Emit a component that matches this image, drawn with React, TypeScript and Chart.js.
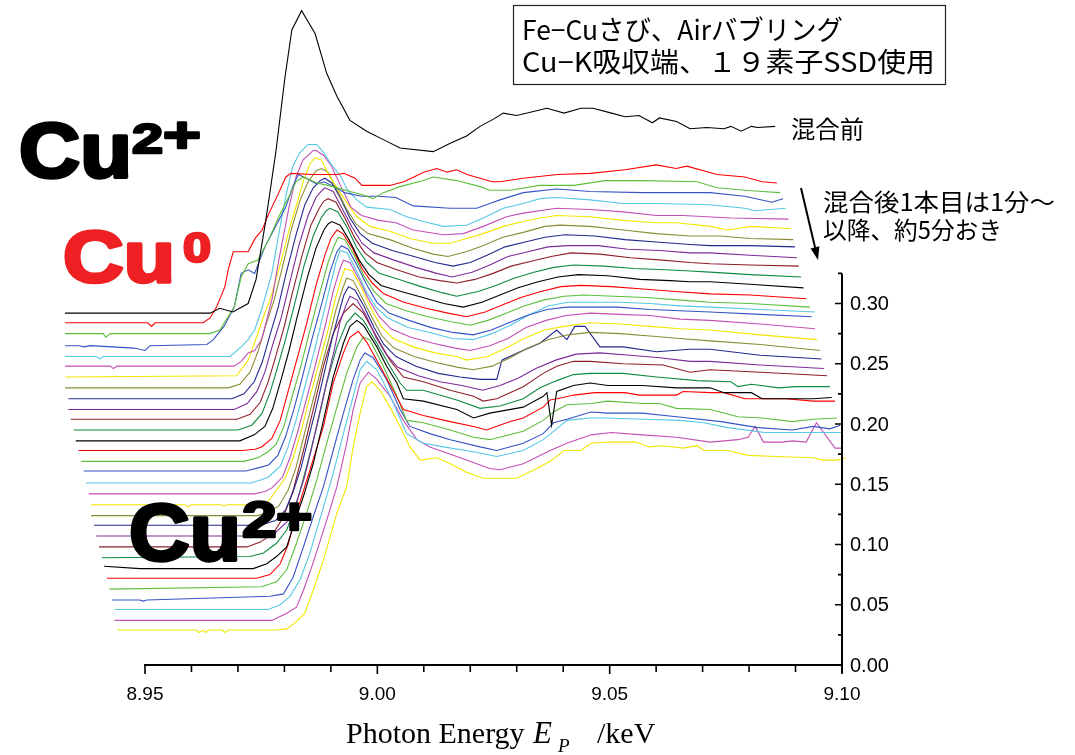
import React, { useEffect, useRef } from 'react';
import { Chart, registerables } from 'chart.js';

Chart.register(...registerables);

// ---- axis ticks ----
const X_MAJOR_TICKS = [8.95, 9.0, 9.05, 9.1];
const X_TICK_LABELS = ['8.95', '9.00', '9.05', '9.10'];
const X_MINOR_STEP = 0.01;
const Y_MAJOR_TICKS = [0, 0.05, 0.1, 0.15, 0.2, 0.25, 0.3];
const Y_TICK_LABELS = ['0.00', '0.05', '0.10', '0.15', '0.20', '0.25', '0.30'];
const Y_MINOR_STEP = 0.025;
const Y_AXIS_TOP = 0.325;

// Origin-like colour cycle
const COLORS = ['#000000', '#ff0000', '#5cbf3c', '#3553c4', '#55c8e6', '#c34fb5', '#f2e600', '#8c8c37', '#23288c', '#7d2b9b', '#8f1f2b', '#0f8a43'];

// ---- spectra: [photon energy / eV, plotted value] (waterfall, as displayed) ----
const S00 = [[8932.8,.292],[8964.0,.292],[8966.1,.296],[8968.9,.293],[8972.2,.300],[8973.9,.320],[8976.0,.369],[8978.2,.427],[8980.1,.487],[8981.6,.527],[8983.7,.543],[8986.6,.524],[8989.1,.491],[8991.3,.472],[8994.1,.452],[8997.7,.443],[9001.3,.436],[9004.9,.429],[9012.0,.426],[9015.7,.433],[9019.2,.439],[9022.1,.447],[9025.0,.453],[9027.1,.458],[9030.0,.456],[9036.5,.462],[9040.2,.458],[9043.8,.462],[9046.4,.462],[9050.4,.458],[9053.3,.455],[9056.3,.456],[9059.2,.450],[9060.7,.454],[9064.4,.451],[9067.3,.445],[9070.9,.446],[9074.6,.445],[9076.1,.447],[9078.3,.443],[9080.5,.447],[9081.9,.446],[9085.6,.447]];
const S01 = [[8932.8,.284],[8950.6,.284],[8951.4,.281],[8952.2,.284],[8962.5,.284],[8964.0,.288],[8965.4,.297],[8967.2,.314],[8967.9,.328],[8969.0,.343],[8972.2,.343],[8973.7,.354],[8975.2,.361],[8976.7,.375],[8978.8,.392],[8980.3,.405],[8981.4,.408],[8985.9,.407],[8991.3,.407],[8992.8,.408],[8995.2,.404],[8996.7,.398],[9002.7,.398],[9005.7,.401],[9010.0,.409],[9012.8,.412],[9015.0,.409],[9017.1,.411],[9019.3,.407],[9024.7,.401],[9026.4,.401],[9031.4,.404],[9038.7,.407],[9045.8,.408],[9053.3,.411],[9060.0,.415],[9064.3,.412],[9066.6,.414],[9073.1,.407],[9079.1,.405],[9082.8,.401],[9086.0,.400]];
const S02 = [[8932.8,.275],[8941.0,.275],[8941.6,.272],[8942.5,.275],[8964.0,.275],[8966.1,.278],[8969.2,.297],[8970.7,.322],[8972.2,.333],[8974.3,.336],[8976.6,.353],[8978.8,.372],[8981.0,.389],[8982.5,.401],[8984.0,.405],[8987.0,.400],[8990.5,.397],[8994.1,.393],[8997.0,.390],[8999.1,.387],[9001.3,.392],[9004.9,.397],[9009.9,.402],[9012.0,.405],[9017.1,.402],[9022.1,.397],[9024.2,.394],[9028.6,.394],[9035.0,.398],[9042.3,.398],[9049.0,.402],[9057.0,.402],[9068.8,.401],[9073.1,.396],[9079.1,.394],[9082.8,.393],[9086.7,.392]];
const S03 = [[8932.8,.265],[8935.8,.265],[8936.9,.264],[8938.2,.265],[8947.6,.263],[8950.0,.261],[8951.1,.265],[8963.3,.266],[8964.7,.270],[8967.0,.281],[8969.2,.297],[8970.7,.325],[8972.2,.328],[8973.6,.325],[8975.8,.347],[8978.1,.364],[8980.3,.380],[8981.8,.397],[8983.0,.407],[8984.7,.404],[8987.0,.399],[8988.5,.401],[8990.7,.397],[8992.9,.392],[8996.6,.389],[9000.3,.389],[9004.0,.388],[9007.7,.381],[9015.7,.379],[9021.4,.379],[9024.2,.383],[9026.4,.386],[9031.4,.392],[9038.6,.395],[9045.8,.393],[9057.0,.392],[9071.6,.392],[9079.1,.389],[9084.9,.384],[9087.3,.387]];
const S04 = [[8932.8,.256],[8939.5,.256],[8940.3,.254],[8941.0,.256],[8968.3,.256],[8970.7,.264],[8972.2,.270],[8973.6,.278],[8975.1,.295],[8977.3,.325],[8978.8,.358],[8980.3,.389],[8981.8,.414],[8983.3,.425],[8985.1,.432],[8985.9,.432],[8987.0,.432],[8988.5,.425],[8990.0,.416],[8992.2,.405],[8993.6,.394],[8995.6,.386],[8997.7,.380],[9002.7,.378],[9006.3,.372],[9009.9,.368],[9014.2,.364],[9019.2,.365],[9022.8,.371],[9027.1,.379],[9031.4,.383],[9035.0,.387],[9038.6,.388],[9045.8,.386],[9052.9,.383],[9060.1,.383],[9071.6,.382],[9079.1,.379],[9081.3,.377],[9087.9,.379]];
const S05 = [[8932.8,.248],[8942.5,.248],[8943.2,.246],[8944.0,.248],[8969.2,.248],[8970.7,.252],[8972.2,.259],[8973.6,.261],[8975.1,.270],[8977.3,.303],[8978.8,.336],[8981.0,.380],[8982.5,.405],[8984.0,.419],[8986.2,.427],[8986.8,.427],[8988.4,.423],[8990.0,.415],[8992.2,.397],[8994.3,.380],[8996.6,.373],[9000.3,.369],[9004.0,.367],[9007.7,.361],[9014.2,.357],[9018.5,.358],[9022.8,.364],[9027.8,.372],[9031.4,.375],[9038.6,.379],[9045.8,.378],[9052.9,.376],[9060.1,.373],[9065.8,.373],[9076.1,.371],[9088.5,.370]];
const S06 = [[8932.8,.239],[8969.7,.240],[8972.2,.253],[8974.0,.272],[8975.5,.289],[8976.9,.303],[8979.1,.332],[8981.2,.364],[8982.7,.383],[8984.1,.402],[8985.5,.416],[8986.6,.421],[8988.0,.419],[8989.8,.405],[8992.0,.392],[8994.1,.380],[8995.6,.372],[8998.4,.364],[9002.7,.360],[9007.0,.354],[9012.0,.350],[9015.7,.350],[9019.2,.354],[9022.8,.358],[9027.1,.364],[9031.4,.368],[9035.0,.371],[9038.6,.373],[9045.8,.372],[9052.9,.369],[9060.1,.367],[9064.4,.367],[9071.7,.364],[9075.4,.361],[9080.5,.364],[9089.0,.362]];
const S07 = [[8932.8,.230],[8967.9,.230],[8970.4,.233],[8972.6,.243],[8974.3,.260],[8976.0,.282],[8977.8,.303],[8979.5,.329],[8981.6,.363],[8983.4,.386],[8985.1,.401],[8986.8,.410],[8988.0,.412],[8989.4,.409],[8991.1,.396],[8993.3,.379],[8995.4,.366],[8998.0,.358],[9002.7,.353],[9007.5,.346],[9012.0,.341],[9015.2,.339],[9019.1,.343],[9022.7,.348],[9027.0,.355],[9031.4,.359],[9036.1,.364],[9039.3,.365],[9045.8,.364],[9052.9,.361],[9060.0,.358],[9067.3,.356],[9073.7,.356],[9080.2,.354],[9089.5,.353]];
const S08 = [[8933.5,.221],[8968.7,.221],[8971.3,.225],[8973.5,.235],[8975.2,.251],[8976.9,.274],[8978.6,.296],[8980.3,.324],[8982.5,.357],[8984.4,.382],[8986.2,.396],[8987.7,.402],[8988.7,.404],[8990.2,.400],[8992.0,.388],[8994.1,.371],[8996.3,.358],[8998.9,.350],[9003.2,.344],[9007.9,.339],[9012.4,.334],[9016.3,.331],[9020.0,.334],[9023.6,.340],[9027.5,.347],[9031.8,.351],[9036.1,.355],[9040.4,.357],[9046.8,.356],[9053.3,.353],[9060.0,.351],[9067.3,.349],[9071.6,.348],[9080.2,.348],[9089.9,.347]];
const S09 = [[8933.5,.212],[8969.2,.212],[8972.0,.217],[8974.1,.227],[8975.8,.243],[8977.5,.266],[8979.3,.288],[8981.0,.315],[8983.1,.348],[8985.1,.373],[8986.8,.388],[8987.9,.393],[8988.7,.396],[8990.5,.393],[8992.4,.379],[8994.6,.363],[8996.7,.350],[8999.3,.342],[9003.6,.336],[9008.3,.330],[9012.8,.325],[9016.1,.322],[9020.4,.326],[9024.2,.332],[9028.1,.339],[9032.4,.343],[9036.7,.347],[9041.0,.348],[9047.5,.348],[9053.9,.345],[9060.8,.344],[9067.3,.342],[9071.6,.342],[9080.2,.340],[9090.3,.338]];
const S10 = [[8934.0,.204],[8969.8,.204],[8972.6,.208],[8974.8,.218],[8976.5,.235],[8978.2,.257],[8979.9,.280],[8981.6,.307],[8983.8,.340],[8985.7,.365],[8987.5,.379],[8988.5,.385],[8989.4,.387],[8991.1,.384],[8993.0,.371],[8995.2,.354],[8997.3,.342],[8999.9,.334],[9004.2,.328],[9009.0,.322],[9013.5,.319],[9017.1,.317],[9021.0,.320],[9024.9,.325],[9028.8,.331],[9033.1,.335],[9037.4,.339],[9041.7,.342],[9047.9,.341],[9054.4,.338],[9061.3,.336],[9067.3,.334],[9071.6,.333],[9080.2,.332],[9090.7,.331]];
const S11 = [[8934.6,.195],[8970.0,.195],[8973.0,.199],[8975.2,.209],[8976.9,.226],[8978.6,.248],[8980.3,.271],[8982.1,.298],[8984.2,.331],[8986.2,.356],[8987.9,.371],[8989.0,.377],[8989.8,.379],[8991.5,.376],[8993.5,.363],[8995.6,.346],[8997.8,.334],[9000.4,.325],[9004.7,.320],[9009.4,.314],[9013.9,.309],[9017.1,.306],[9021.7,.310],[9025.5,.315],[9029.4,.321],[9033.7,.326],[9038.0,.330],[9042.3,.332],[9048.8,.331],[9055.2,.329],[9061.9,.328],[9067.3,.327],[9071.6,.326],[9080.2,.324],[9091.2,.322]];
const S12 = [[8935.1,.186],[8970.4,.186],[8973.5,.191],[8975.8,.198],[8977.5,.213],[8979.3,.237],[8981.0,.261],[8982.7,.288],[8984.9,.321],[8986.8,.346],[8988.5,.361],[8989.4,.366],[8990.2,.368],[8992.0,.365],[8993.9,.353],[8996.1,.336],[8998.2,.324],[9000.8,.315],[9005.1,.310],[9009.8,.305],[9014.3,.300],[9018.5,.297],[9022.5,.301],[9026.4,.307],[9030.3,.313],[9034.6,.318],[9038.9,.322],[9043.2,.324],[9049.6,.323],[9056.5,.320],[9063.0,.319],[9067.3,.318],[9071.6,.318],[9080.2,.316],[9091.7,.313]];
const S13 = [[8935.7,.178],[8970.9,.178],[8973.7,.179],[8975.1,.181],[8977.3,.188],[8979.1,.203],[8980.8,.227],[8982.5,.251],[8984.7,.282],[8986.8,.315],[8988.7,.340],[8990.0,.354],[8991.3,.361],[8992.6,.358],[8994.6,.346],[8996.7,.329],[8998.9,.317],[9001.4,.308],[9005.7,.301],[9010.5,.296],[9015.2,.292],[9019.2,.289],[9023.2,.293],[9027.0,.299],[9030.9,.305],[9035.2,.310],[9039.5,.314],[9043.8,.315],[9050.3,.314],[9057.2,.312],[9064.1,.310],[9071.6,.308],[9080.2,.307],[9092.3,.304]];
const S14 = [[8936.3,.169],[8971.3,.169],[8974.3,.172],[8976.5,.177],[8978.2,.183],[8979.9,.198],[8981.6,.222],[8983.4,.246],[8985.5,.278],[8987.7,.310],[8989.4,.334],[8990.7,.348],[8991.6,.355],[8993.0,.353],[8995.0,.340],[8997.1,.323],[8999.3,.310],[9001.9,.300],[9006.2,.294],[9010.9,.289],[9015.7,.285],[9020.0,.282],[9023.8,.286],[9027.7,.292],[9031.6,.298],[9035.9,.303],[9040.2,.306],[9044.5,.307],[9050.9,.306],[9057.8,.305],[9064.7,.303],[9071.6,.301],[9080.2,.300],[9093.1,.297]];
const S15 = [[8936.8,.161],[8971.7,.161],[8974.8,.164],[8976.6,.166],[8978.6,.174],[8980.3,.190],[8982.1,.213],[8983.8,.238],[8985.9,.270],[8988.1,.301],[8989.8,.326],[8991.3,.343],[8992.3,.348],[8993.7,.345],[8995.6,.332],[8997.8,.315],[8999.9,.301],[9002.5,.292],[9006.8,.286],[9011.6,.280],[9016.3,.276],[9020.6,.274],[9024.5,.278],[9028.3,.284],[9032.2,.290],[9036.5,.295],[9040.8,.297],[9045.1,.297],[9051.6,.297],[9058.7,.295],[9065.1,.294],[9071.6,.293],[9082.4,.291],[9093.5,.289]];
const S16 = [[8937.3,.151],[8972.8,.151],[8975.2,.154],[8976.6,.156],[8979.1,.165],[8980.8,.181],[8982.5,.203],[8984.2,.228],[8986.4,.260],[8988.5,.293],[8990.0,.317],[8991.1,.334],[8992.0,.344],[8993.5,.342],[8995.4,.328],[8997.6,.310],[8999.7,.297],[9002.3,.288],[9006.6,.280],[9011.3,.276],[9016.1,.271],[9020.6,.270],[9024.7,.275],[9028.6,.282],[9032.4,.290],[9036.7,.298],[9041.0,.301],[9045.8,.301],[9052.2,.301],[9058.7,.300],[9065.1,.298],[9071.6,.297],[9082.4,.295],[9094.2,.293]];
const S17 = [[8937.9,.142],[8973.5,.142],[8975.8,.144],[8977.3,.147],[8979.6,.156],[8981.2,.172],[8982.9,.194],[8984.7,.220],[8986.8,.251],[8989.0,.285],[8990.5,.310],[8991.8,.327],[8992.7,.336],[8994.1,.334],[8996.1,.320],[8998.2,.303],[9000.4,.289],[9002.9,.279],[9007.2,.272],[9012.0,.267],[9016.7,.263],[9020.0,.261],[9024.2,.265],[9028.1,.271],[9032.0,.280],[9036.3,.286],[9040.6,.290],[9045.8,.292],[9052.2,.291],[9058.7,.290],[9065.1,.287],[9071.6,.286],[9082.4,.283],[9094.2,.279]];
const S18 = [[8938.4,.133],[8958.6,.133],[8959.3,.131],[8959.9,.133],[8966.4,.133],[8967.0,.132],[8967.6,.133],[8973.9,.133],[8976.6,.136],[8978.1,.144],[8980.3,.156],[8981.9,.172],[8983.6,.194],[8985.3,.220],[8987.5,.251],[8989.4,.278],[8990.9,.303],[8992.2,.320],[8993.0,.329],[8994.6,.327],[8996.5,.314],[8998.6,.296],[9000.8,.281],[9003.4,.271],[9007.7,.264],[9012.4,.259],[9017.1,.256],[9019.2,.253],[9023.8,.256],[9027.7,.263],[9031.6,.271],[9035.9,.278],[9040.2,.281],[9045.8,.284],[9052.2,.283],[9058.7,.281],[9065.1,.279],[9071.6,.278],[9082.4,.274],[9094.6,.270]];
const S19 = [[8938.4,.124],[8974.3,.124],[8976.6,.127],[8978.8,.132],[8980.8,.145],[8982.5,.164],[8984.0,.187],[8985.7,.213],[8987.7,.243],[8989.6,.271],[8991.1,.295],[8992.4,.311],[8993.4,.321],[8994.8,.319],[8996.7,.305],[8998.9,.288],[9001.0,.273],[9003.6,.263],[9007.9,.256],[9012.6,.251],[9017.4,.247],[9020.6,.245],[9024.7,.248],[9028.6,.255],[9032.4,.263],[9036.7,.270],[9041.0,.274],[9045.8,.276],[9052.2,.275],[9058.7,.273],[9065.1,.271],[9071.6,.269],[9082.4,.266],[9095.3,.261]];
const S20 = [[8939.0,.116],[8974.8,.116],[8978.1,.120],[8980.3,.129],[8981.9,.144],[8983.6,.164],[8985.1,.187],[8986.8,.213],[8988.5,.241],[8990.2,.270],[8991.8,.293],[8992.8,.307],[8993.8,.314],[8995.2,.311],[8997.1,.298],[8999.3,.280],[9001.4,.266],[9004.0,.256],[9008.3,.248],[9013.1,.242],[9017.8,.239],[9022.1,.237],[9025.7,.237],[9026.8,.253],[9030.7,.260],[9035.0,.267],[9038.6,.278],[9040.8,.270],[9042.5,.281],[9044.7,.281],[9047.9,.264],[9052.9,.264],[9060.1,.260],[9067.3,.262],[9071.6,.262],[9082.4,.257],[9095.6,.254]];
const S21 = [[8939.5,.107],[8974.8,.107],[8978.1,.110],[8980.6,.119],[8982.5,.134],[8984.2,.154],[8985.7,.177],[8987.2,.203],[8989.0,.233],[8990.7,.261],[8992.0,.285],[8993.3,.299],[8994.1,.306],[8995.6,.303],[8997.6,.290],[8999.7,.272],[9001.9,.258],[9004.4,.247],[9008.8,.240],[9013.5,.235],[9018.2,.232],[9022.7,.228],[9026.4,.232],[9030.3,.238],[9034.1,.246],[9038.4,.253],[9042.8,.258],[9047.9,.259],[9054.4,.257],[9060.8,.255],[9067.3,.252],[9071.6,.252],[9082.4,.249],[9096.1,.246]];
const S22 = [[8940.1,.098],[8971.9,.098],[8974.8,.102],[8977.6,.109],[8979.8,.123],[8981.9,.145],[8984.1,.178],[8986.2,.212],[8988.4,.248],[8990.5,.275],[8992.7,.292],[8994.8,.300],[8997.0,.292],[8999.9,.272],[9002.7,.253],[9005.6,.239],[9009.9,.235],[9015.7,.228],[9020.7,.223],[9022.8,.219],[9025.7,.221],[9031.4,.231],[9035.7,.242],[9038.6,.248],[9042.2,.252],[9045.8,.252],[9052.9,.250],[9061.5,.249],[9067.3,.243],[9071.6,.245],[9082.4,.243],[9096.8,.240]];
const S23 = [[8940.7,.089],[8972.6,.090],[8975.5,.093],[8978.3,.101],[8980.5,.112],[8982.6,.134],[8984.8,.165],[8987.0,.198],[8989.1,.234],[8991.3,.264],[8993.4,.284],[8995.2,.292],[8997.0,.286],[8999.9,.267],[9002.7,.248],[9004.9,.234],[9006.3,.228],[9009.9,.228],[9017.1,.220],[9022.1,.213],[9026.4,.215],[9031.4,.221],[9035.0,.230],[9038.6,.236],[9042.2,.241],[9045.8,.242],[9052.9,.242],[9060.1,.239],[9068.8,.236],[9076.1,.235],[9077.6,.231],[9080.5,.233],[9086.4,.230],[9090.1,.231],[9097.4,.231]];
const S24 = [[8941.2,.082],[8948.9,.080],[8973.3,.080],[8976.2,.084],[8978.3,.090],[8980.5,.098],[8981.9,.115],[8984.1,.140],[8986.2,.167],[8988.4,.203],[8990.5,.239],[8992.7,.267],[8994.1,.281],[8995.6,.286],[8997.0,.282],[8999.9,.264],[9002.0,.248],[9004.2,.234],[9005.6,.221],[9009.9,.219],[9017.1,.212],[9020.7,.205],[9024.2,.209],[9031.4,.214],[9035.7,.223],[9036.5,.226],[9037.5,.199],[9038.6,.227],[9042.2,.232],[9045.8,.234],[9049.6,.232],[9057.0,.232],[9064.4,.230],[9071.6,.230],[9074.6,.226],[9080.5,.226],[9082.8,.221],[9090.1,.221],[9093.8,.221],[9097.8,.222]];
const S25 = [[8941.8,.072],[8974.0,.072],[8976.9,.075],[8979.1,.084],[8980.8,.100],[8982.6,.126],[8985.5,.162],[8988.4,.198],[8990.5,.234],[8992.7,.259],[8994.1,.272],[8995.9,.277],[8997.7,.268],[9000.6,.248],[9003.4,.228],[9005.6,.212],[9009.9,.207],[9015.7,.202],[9020.7,.198],[9023.5,.195],[9028.6,.202],[9031.4,.205],[9035.7,.214],[9037.2,.220],[9038.7,.221],[9042.3,.224],[9046.8,.226],[9053.3,.226],[9056.3,.224],[9064.4,.224],[9065.8,.227],[9071.7,.226],[9074.6,.226],[9079.1,.221],[9087.9,.221],[9093.8,.219],[9098.5,.219]];
const S26 = [[8942.4,.063],[8975.1,.065],[8978.3,.069],[8980.5,.079],[8982.6,.101],[8984.8,.126],[8987.0,.154],[8989.1,.184],[8991.3,.214],[8993.4,.242],[8995.6,.264],[8997.0,.272],[8998.4,.270],[9001.3,.248],[9004.2,.223],[9006.3,.203],[9009.9,.201],[9015.7,.195],[9020.7,.189],[9024.2,.187],[9031.4,.194],[9035.7,.203],[9037.9,.210],[9040.8,.216],[9046.0,.217],[9049.6,.219],[9057.0,.217],[9060.7,.217],[9064.4,.213],[9071.7,.212],[9077.6,.206],[9082.8,.205],[9089.3,.202],[9093.8,.204],[9098.9,.205]];
const S27 = [[8942.9,.054],[8948.9,.054],[8949.6,.053],[8950.4,.054],[8976.9,.057],[8979.8,.059],[8981.9,.073],[8984.1,.098],[8986.2,.123],[8988.4,.148],[8990.5,.178],[8992.7,.209],[8994.8,.237],[8996.3,.253],[8997.3,.259],[8999.1,.255],[9002.0,.237],[9004.9,.212],[9007.0,.198],[9011.3,.192],[9015.7,.187],[9022.1,.181],[9025.7,.178],[9031.4,.184],[9035.7,.192],[9037.9,.201],[9040.8,.204],[9046.0,.210],[9049.6,.209],[9057.0,.209],[9064.4,.206],[9074.0,.202],[9081.9,.197],[9089.3,.195],[9093.8,.198],[9097.4,.196],[9099.6,.199]];
const S28 = [[8943.4,.046],[8976.5,.046],[8979.1,.050],[8981.2,.057],[8983.4,.071],[8985.5,.093],[8988.4,.131],[8990.5,.159],[8992.7,.192],[8994.8,.223],[8996.3,.245],[8997.7,.252],[8999.9,.245],[9002.7,.224],[9006.3,.192],[9009.9,.184],[9014.2,.181],[9020.7,.177],[9025.7,.173],[9031.4,.178],[9035.7,.187],[9038.6,.196],[9040.8,.203],[9045.8,.205],[9049.6,.205],[9057.0,.204],[9065.1,.203],[9070.3,.201],[9075.4,.197],[9083.4,.193],[9099.8,.193]];
const S29 = [[8943.4,.037],[8977.3,.037],[8980.5,.043],[8982.6,.048],[8984.1,.062],[8986.2,.085],[8989.1,.120],[8991.3,.148],[8993.4,.184],[8994.8,.212],[8996.3,.234],[8998.1,.243],[8999.9,.237],[9002.7,.223],[9005.6,.203],[9008.5,.187],[9011.3,.181],[9017.1,.173],[9024.2,.163],[9026.4,.162],[9031.4,.167],[9037.2,.178],[9040.8,.184],[9046.0,.191],[9050.4,.193],[9057.0,.191],[9064.4,.189],[9071.7,.185],[9077.6,.187],[9079.8,.189],[9081.3,.198],[9083.1,.185],[9087.1,.185],[9089.3,.186],[9092.3,.185],[9094.5,.201],[9098.5,.180],[9100.2,.180]];
const S30 = [[8944.0,.029],[8961.0,.029],[8961.6,.027],[8962.5,.029],[8963.1,.027],[8963.8,.029],[8966.6,.029],[8967.2,.027],[8967.9,.029],[8978.0,.029],[8980.5,.030],[8982.6,.036],[8984.4,.043],[8986.2,.062],[8988.4,.087],[8991.3,.126],[8993.4,.148],[8994.8,.181],[8996.3,.209],[8997.7,.231],[8998.8,.235],[9000.6,.228],[9002.7,.214],[9004.9,.198],[9007.0,.181],[9009.2,.170],[9012.8,.172],[9015.7,.167],[9019.2,.160],[9022.8,.155],[9030.0,.155],[9034.3,.163],[9037.2,.169],[9040.2,.178],[9043.8,.178],[9046.0,.184],[9049.6,.185],[9055.6,.185],[9058.5,.181],[9061.5,.182],[9065.8,.180],[9068.8,.182],[9070.3,.178],[9075.4,.178],[9079.8,.174],[9085.7,.173],[9093.8,.172],[9095.9,.170],[9098.9,.170],[9100.8,.172]];

const SERIES = [S00,S01,S02,S03,S04,S05,S06,S07,S08,S09,S10,S11,S12,S13,S14,S15,S16,S17,S18,S19,S20,S21,S22,S23,S24,S25,S26,S27,S28,S29,S30];

// ---- texts ----
const BOX_LINES = ['Fe−Cuさび、Airバブリング', 'Cu−K吸収端、１９素子SSD使用'];
const LABEL_BEFORE = '混合前';
const NOTE_LINES = ['混合後1本目は1分～', '以降、約5分おき'];

// view window (keV / value) chosen so that the drawn axes sit where they do in the figure
const VIEW = { xMin: 8.932783, xMax: 9.103874, yMin: 0, yMax: 0.547718 };

const JP_FONT = '"Noto Sans CJK JP", "Noto Sans CJK SC", sans-serif';
const SERIF = '"Liberation Serif", "Times New Roman", serif';

function fitText(ctx: CanvasRenderingContext2D, text: string, x: number, y: number, size: number, width: number) {
  ctx.font = `${size}px ${JP_FONT}`;
  const w = ctx.measureText(text).width;
  const sx = w > 0 ? width / w : 1;
  ctx.save();
  ctx.translate(x, y);
  ctx.scale(sx, 1);
  ctx.fillText(text, 0, 0);
  ctx.restore();
}

function heavyText(ctx: CanvasRenderingContext2D, text: string, x: number, y: number, size: number, color: string, stroke: number, sx: number) {
  ctx.save();
  ctx.font = `bold ${size}px "Liberation Sans", Arial, sans-serif`;
  ctx.fillStyle = color;
  ctx.strokeStyle = color;
  ctx.lineWidth = stroke;
  ctx.lineJoin = 'round';
  ctx.textAlign = 'left';
  ctx.textBaseline = 'alphabetic';
  ctx.translate(x, y);
  ctx.scale(sx, 1);
  ctx.strokeText(text, 0, 0);
  ctx.fillText(text, 0, 0);
  ctx.restore();
}

const overlayPlugin = {
  id: 'overlay',
  afterDatasetsDraw(chart: any) {
    const ctx: CanvasRenderingContext2D = chart.ctx;
    const xs = chart.scales.x;
    const ys = chart.scales.y;
    const px = (v: number) => xs.getPixelForValue(v);
    const py = (v: number) => ys.getPixelForValue(v);
    ctx.save();

    // axes
    const xl = px(X_MAJOR_TICKS[0]);
    const xr = px(X_MAJOR_TICKS[X_MAJOR_TICKS.length - 1]);
    const yb = py(0);
    const yt = py(Y_AXIS_TOP);
    ctx.strokeStyle = '#000';
    ctx.lineWidth = 2;
    ctx.beginPath();
    ctx.moveTo(xl - 1, yb);
    ctx.lineTo(xr, yb);
    ctx.moveTo(xr, yt);
    ctx.lineTo(xr, yb + 8);
    ctx.stroke();

    ctx.lineWidth = 1.6;
    ctx.beginPath();
    const nx = Math.round((X_MAJOR_TICKS[X_MAJOR_TICKS.length - 1] - X_MAJOR_TICKS[0]) / X_MINOR_STEP);
    for (let k = 0; k <= nx; k++) {
      const p = px(X_MAJOR_TICKS[0] + k * X_MINOR_STEP);
      ctx.moveTo(p, yb);
      ctx.lineTo(p, yb + (k % 5 === 0 ? 9 : 7));
    }
    const ny = Math.round(Y_AXIS_TOP / Y_MINOR_STEP);
    for (let k = 0; k <= ny; k++) {
      const p = py(k * Y_MINOR_STEP);
      ctx.moveTo(xr, p);
      ctx.lineTo(xr - (k % 2 === 0 ? 7 : 4), p);
    }
    ctx.stroke();

    ctx.fillStyle = '#000';
    ctx.font = '19px "Liberation Sans", Arial, sans-serif';
    ctx.textAlign = 'center';
    ctx.textBaseline = 'alphabetic';
    X_MAJOR_TICKS.forEach((v, i) => ctx.fillText(X_TICK_LABELS[i], px(v), yb + 35));
    ctx.font = '20px "Liberation Sans", Arial, sans-serif';
    ctx.textAlign = 'left';
    ctx.textBaseline = 'middle';
    Y_MAJOR_TICKS.forEach((v, i) => ctx.fillText(Y_TICK_LABELS[i], xr + 8, py(v) + 1));

    // x-axis title
    ctx.textBaseline = 'alphabetic';
    ctx.font = `30px ${SERIF}`;
    ctx.fillText('Photon Energy', 346, 743);
    ctx.font = `italic 31px ${SERIF}`;
    ctx.fillText('E', 533, 743);
    ctx.font = `italic 19px ${SERIF}`;
    ctx.fillText('P', 558, 752);
    ctx.font = `30px ${SERIF}`;
    ctx.fillText('/keV', 597, 743);

    // title box
    ctx.lineWidth = 1.2;
    ctx.strokeStyle = '#222';
    ctx.strokeRect(513.5, 5.5, 432, 79);
    ctx.fillStyle = '#000';
    ctx.textAlign = 'left';
    ctx.textBaseline = 'alphabetic';
    fitText(ctx, BOX_LINES[0], 522, 40, 27, 321);
    fitText(ctx, BOX_LINES[1], 522, 72, 27, 413);

    // side annotations
    ctx.textBaseline = 'middle';
    fitText(ctx, LABEL_BEFORE, 791, 129, 24, 73);
    fitText(ctx, NOTE_LINES[0], 823, 202, 24, 232);
    fitText(ctx, NOTE_LINES[1], 823, 230, 24, 179);

    // arrow
    const ax0 = 801, ay0 = 188, ax1 = 818, ay1 = 260;
    const ang = Math.atan2(ay1 - ay0, ax1 - ax0);
    ctx.strokeStyle = '#000';
    ctx.lineWidth = 2;
    ctx.beginPath();
    ctx.moveTo(ax0, ay0);
    ctx.lineTo(ax1 - 10 * Math.cos(ang), ay1 - 10 * Math.sin(ang));
    ctx.stroke();
    ctx.beginPath();
    ctx.moveTo(ax1, ay1);
    ctx.lineTo(ax1 - 13 * Math.cos(ang) + 4.5 * Math.sin(ang), ay1 - 13 * Math.sin(ang) - 4.5 * Math.cos(ang));
    ctx.lineTo(ax1 - 13 * Math.cos(ang) - 4.5 * Math.sin(ang), ay1 - 13 * Math.sin(ang) + 4.5 * Math.cos(ang));
    ctx.closePath();
    ctx.fillStyle = '#000';
    ctx.fill();

    // ion labels
    heavyText(ctx, 'Cu', 19, 177, 77, '#000', 3.5, 1.1);
    heavyText(ctx, '2', 132, 153, 43, '#000', 2.5, 1.3);
    heavyText(ctx, '+', 163, 152, 50, '#000', 2.5, 1.3);
    heavyText(ctx, 'Cu', 63, 282, 73, '#ee2024', 3.5, 1.15);
    heavyText(ctx, '0', 183, 262, 42, '#ee2024', 2.5, 1.2);
    heavyText(ctx, 'Cu', 129, 560, 80, '#000', 3.5, 1.05);
    heavyText(ctx, '2', 242, 537, 50, '#000', 2.5, 1.25);
    heavyText(ctx, '+', 276, 534, 52, '#000', 2.5, 1.2);

    ctx.restore();
  },
};

export default function App() {
  const ref = useRef<HTMLCanvasElement>(null);
  useEffect(() => {
    const datasets = SERIES.map((s, i) => ({
      data: s.map(([e, v]) => ({ x: e / 1000, y: v })),
      borderColor: COLORS[i % COLORS.length],
      backgroundColor: COLORS[i % COLORS.length],
      borderWidth: 1.1,
      pointRadius: 0,
      fill: false,
      tension: 0,
    }));
    const chart = new Chart(ref.current as HTMLCanvasElement, {
      type: 'line',
      data: { datasets },
      options: {
        responsive: false,
        animation: false,
        events: [],
        layout: { padding: { left: 65, top: 5, right: 215, bottom: 90 } },
        plugins: { legend: { display: false }, tooltip: { enabled: false }, title: { display: false } },
        scales: {
          x: { type: 'linear', min: VIEW.xMin, max: VIEW.xMax, display: false },
          y: { type: 'linear', min: VIEW.yMin, max: VIEW.yMax, display: false },
        },
      },
      plugins: [overlayPlugin],
    } as any);
    return () => chart.destroy();
  }, []);
  return (
    <div style={{ position: 'absolute', left: 0, top: 0, width: 1075, height: 755, background: '#fff' }}>
      <canvas ref={ref} width={1075} height={755} style={{ display: 'block' }} />
    </div>
  );
}
